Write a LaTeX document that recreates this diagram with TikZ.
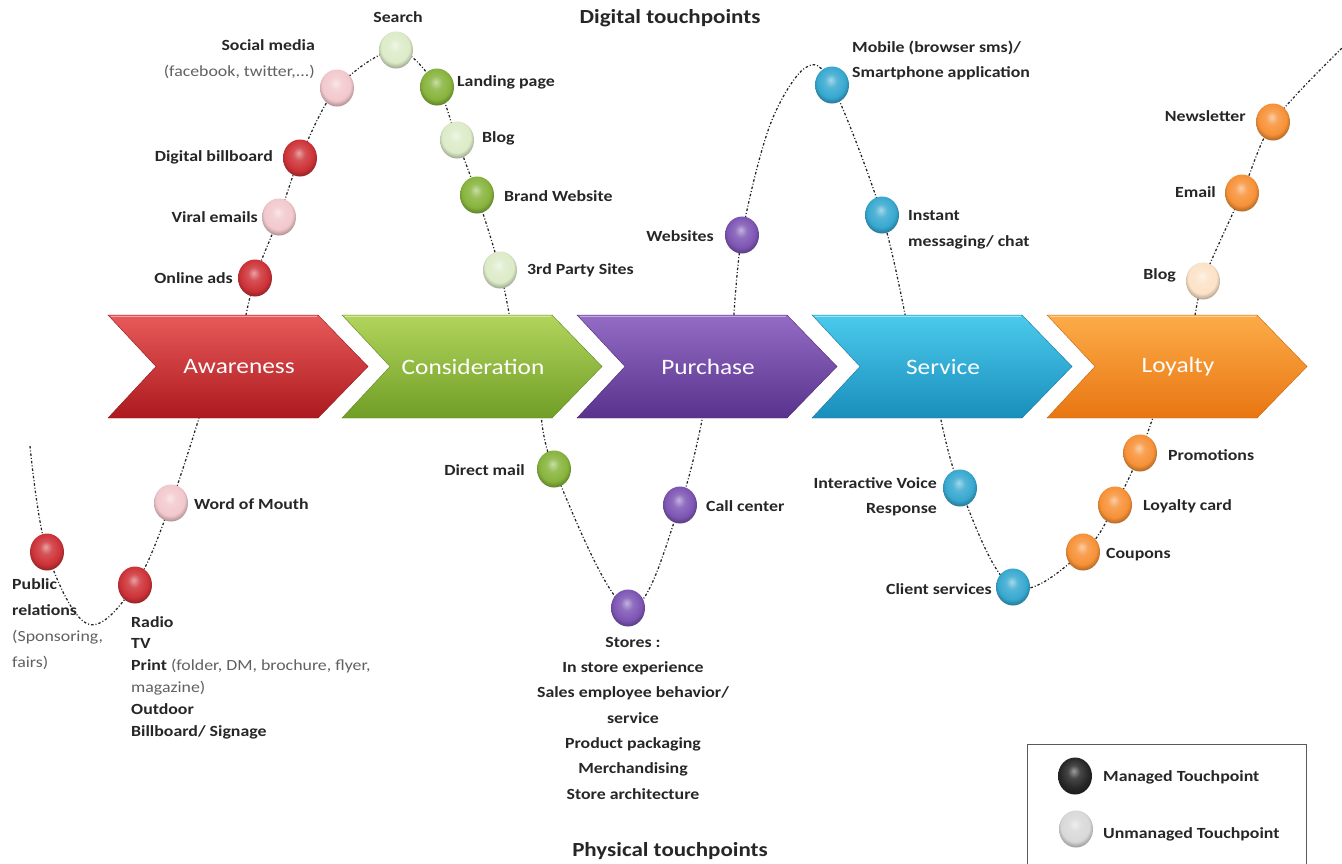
\documentclass[tikz,border=0pt]{standalone}
\usepackage{fontspec}
\setmainfont{Carlito}
\newfontfamily\lbl{Carlito}[FakeStretch=1.15]
\usetikzlibrary{shapes.geometric}
\pgfdeclarelayer{bg}
\pgfsetlayers{bg,main}
\makeatletter
\pgfdeclareradialshading[tikz@ball]{myball}{\pgfpoint{-2bp}{7bp}}{%
  color(0bp)=(tikz@ball!45!white);
  color(9bp)=(tikz@ball!85!white);
  color(21bp)=(tikz@ball);
  color(30bp)=(tikz@ball!62!black);
  color(50bp)=(tikz@ball!62!black)}
\makeatother
\definecolor{redM}{RGB}{205,50,55}
\definecolor{redU}{RGB}{242,200,205}
\definecolor{grnM}{RGB}{135,180,60}
\definecolor{grnU}{RGB}{220,235,200}
\definecolor{purM}{RGB}{125,85,180}
\definecolor{bluM}{RGB}{55,168,208}
\definecolor{orgM}{RGB}{247,145,55}
\definecolor{orgU}{RGB}{252,226,200}
\definecolor{redT}{RGB}{232,90,90}\definecolor{redB}{RGB}{172,25,30}
\definecolor{grnT}{RGB}{178,212,92}\definecolor{grnB}{RGB}{112,158,38}
\definecolor{purT}{RGB}{148,108,198}\definecolor{purB}{RGB}{88,50,140}
\definecolor{bluT}{RGB}{75,202,236}\definecolor{bluB}{RGB}{25,142,188}
\definecolor{orgT}{RGB}{252,172,72}\definecolor{orgB}{RGB}{232,118,18}
\newcommand{\grtxt}[1]{{\mdseries\color{black!62}#1}}
\newcommand{\mychev}[5]{%
  \path[top color=#3, bottom color=#4, draw=#4!85!black, line width=0.4pt]
    (#2,315) -- ++(210,0) -- ++(50,51.5) -- ++(-50,51.5) -- ++(-210,0) -- ++(48,-51.5) -- cycle;
  \draw[white, opacity=0.45, line width=1.2pt] (#2+3,316.5) -- ++(206,0);
  \node[chevtext] (#1) at (#2+131,367) {#5};}
\begin{document}
\begin{tikzpicture}[x=1pt,y=-1pt,
  ball/.style={ellipse, minimum width=34pt, minimum height=37pt, inner sep=0pt, ball color=#1, shading=myball},
  lab/.style={font=\lbl\bfseries\fontsize{15.5}{#1}\selectfont, text=black!85, inner sep=0pt},
  lab/.default=21.7,
  ttl/.style={font=\lbl\bfseries\fontsize{20}{24}\selectfont, text=black!85, inner sep=0pt},
  chevtext/.style={font=\lbl\fontsize{22}{26}\selectfont, text=white, inner sep=0pt},
  conn/.style={draw=black!85, line width=1.25pt, dash pattern=on 2.5pt off 2pt on 1pt off 2pt},
  lgbox/.style={draw=black!65, line width=1pt}
]
\useasboundingbox (0,0) rectangle (1342,863);
\begin{pgfonlayer}{bg}
\fill[white] (0,0) rectangle (1342,863);
\end{pgfonlayer}

% chevrons
\mychev{aw}{108}{redT}{redB}{Awareness}
\mychev{co}{342}{grnT}{grnB}{Consideration}
\mychev{pu}{577}{purT}{purB}{Purchase}
\mychev{se}{812}{bluT}{bluB}{Service}
\mychev{lo}{1047}{orgT}{orgB}{Loyalty}

% line end coordinates (inside chevrons)
\coordinate (aw-top) at (243,330);
\coordinate (co-top) at (512,330);
\coordinate (pu-top) at (733,330);
\coordinate (se-top) at (908,330);
\coordinate (lo-top) at (1193,330);
\coordinate (aw-bot) at (203,405);
\coordinate (co-bot) at (541,405);
\coordinate (pu-bot) at (705,405);
\coordinate (se-bot) at (938,405);
\coordinate (lo-bot) at (1157,405);
\coordinate (pk1) at (770,125);
\coordinate (pk2) at (805,68);
\coordinate (lo-end) at (1342,48);
\coordinate (pr-start) at (30,446);
\coordinate (pr-low) at (88,624);

% balls
\node[ball=redM] (ads) at (255,278) {};
\node[ball=redU] (viral) at (279,217) {};
\node[ball=redM] (bill) at (300,158) {};
\node[ball=redU] (social) at (337,88) {};
\node[ball=grnU] (search) at (396,50) {};
\node[ball=grnM] (landing) at (437,87) {};
\node[ball=grnU] (cblog) at (457,140) {};
\node[ball=grnM] (brand) at (477,195) {};
\node[ball=grnU] (third) at (500,270) {};
\node[ball=purM] (web) at (742,235) {};
\node[ball=bluM] (mobile) at (832,85) {};
\node[ball=bluM] (instant) at (882,215) {};
\node[ball=orgU] (lblog) at (1203,281) {};
\node[ball=orgM] (email) at (1242,193) {};
\node[ball=orgM] (news) at (1273,122) {};
\node[ball=redU] (wom) at (171,503) {};
\node[ball=redM] (pr) at (47,552) {};
\node[ball=redM] (radio) at (135,585) {};
\node[ball=grnM] (dmail) at (554,469) {};
\node[ball=purM] (stores) at (628,608) {};
\node[ball=purM] (call) at (680,505) {};
\node[ball=bluM] (ivr) at (960,488) {};
\node[ball=bluM] (client) at (1013,587) {};
\node[ball=orgM] (coupons) at (1083,552) {};
\node[ball=orgM] (lcard) at (1115,505) {};
\node[ball=orgM] (promo) at (1140,453) {};

% labels
\node[ttl] (tdig) at (670,18) {Digital touchpoints};
\node[ttl] (tphy) at (670,851) {Physical touchpoints};
\node[lab] (l-search) at (398,17) {Search};
\node[lab=26, anchor=east, align=right] (l-social) at (315,59) {Social media\\\grtxt{(facebook, twitter,...)}};
\node[lab, anchor=east] (l-bill) at (273,157) {Digital billboard};
\node[lab, anchor=east] (l-viral) at (258,217) {Viral emails};
\node[lab, anchor=east] (l-ads) at (233,278) {Online ads};
\node[lab, anchor=west] (l-landing) at (457,82) {Landing page};
\node[lab, anchor=west] (l-cblog) at (482,138) {Blog};
\node[lab, anchor=west] (l-brand) at (504,196) {Brand Website};
\node[lab, anchor=west] (l-third) at (527,270) {3rd Party Sites};
\node[lab, anchor=east] (l-web) at (714,236) {Websites};
\node[lab=25, anchor=west, align=left] (l-mobile) at (852,60) {Mobile (browser sms)/\\Smartphone application};
\node[lab=26, anchor=west, align=left] (l-instant) at (908,230) {Instant\\messaging/ chat};
\node[lab, anchor=east] (l-news) at (1246,116) {Newsletter};
\node[lab, anchor=east] (l-email) at (1216,192) {Email};
\node[lab, anchor=east] (l-lblog) at (1176,275) {Blog};
\node[lab, anchor=west] (l-wom) at (194,504) {Word of Mouth};
\node[lab=26, anchor=north west, align=left] (l-pr) at (12,578) {Public\\relations\\\grtxt{(Sponsoring,}\\\grtxt{fairs)}};
\node[lab=21.8, anchor=north west, align=left] (l-radio) at (131,616) {Radio\\TV\\Print \grtxt{(folder, DM, brochure, flyer,}\\\grtxt{magazine)}\\Outdoor\\Billboard/ Signage};
\node[lab, anchor=east] (l-dmail) at (525,470) {Direct mail};
\node[lab, anchor=west] (l-call) at (706,506) {Call center};
\node[lab=25.3, anchor=north, align=center] (l-stores) at (633,637) {Stores :\\In store experience\\Sales employee behavior/\\service\\Product packaging\\Merchandising\\Store architecture};
\node[lab=25, anchor=east, align=right] (l-ivr) at (937,497) {Interactive Voice\\Response};
\node[lab, anchor=east] (l-client) at (992,589) {Client services};
\node[lab, anchor=west] (l-coupons) at (1106,555) {Coupons};
\node[lab, anchor=west] (l-lcard) at (1143,506) {Loyalty card};
\node[lab, anchor=west] (l-promo) at (1168,455) {Promotions};

% legend
\draw[lgbox] (1027,744) rectangle (1306,880);
\node[ball=black!85] (lgM) at (1075,776) {};
\node[ball=gray!30] (lgU) at (1076,829) {};
\node[lab, anchor=west] (l-lgM) at (1103,777) {Managed Touchpoint};
\node[lab, anchor=west] (l-lgU) at (1103,834) {Unmanaged Touchpoint};

% connectors
\begin{pgfonlayer}{bg}
\draw[conn] plot[smooth, tension=0.55] coordinates {(aw-top.center) (ads.center) (viral.center) (bill.center) (social.center) (search.center) (landing.center) (cblog.center) (brand.center) (third.center) (co-top.center)};
\draw[conn] plot[smooth, tension=0.55] coordinates {(pu-top.center) (web.center) (pk1.center) (pk2.center) (mobile.center) (instant.center) (se-top.center)};
\draw[conn] plot[smooth, tension=0.5] coordinates {(lo-top.center) (lblog.center) (email.center) (news.center) (lo-end.center)};
\draw[conn] plot[smooth, tension=0.6] coordinates {(pr-start.center) (pr.center) (pr-low.center) (radio.center) (wom.center) (aw-bot.center)};
\draw[conn] plot[smooth, tension=0.6] coordinates {(co-bot.center) (dmail.center) (stores.center) (call.center) (pu-bot.center)};
\draw[conn] plot[smooth, tension=0.6] coordinates {(se-bot.center) (ivr.center) (client.center) (coupons.center) (lcard.center) (promo.center) (lo-bot.center)};
\end{pgfonlayer}
\end{tikzpicture}
\end{document}
